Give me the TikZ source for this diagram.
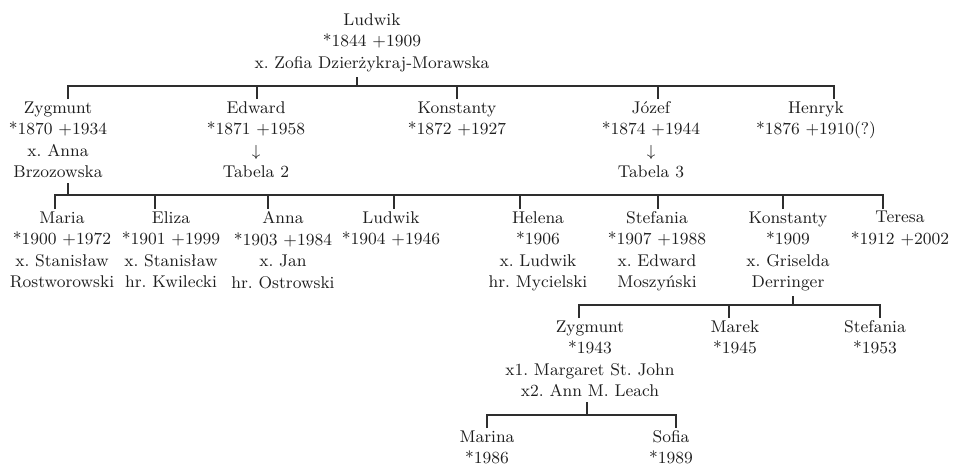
\documentclass[tikz,border=0pt]{standalone}
\usepackage{tikz}
\definecolor{inkgray}{HTML}{1E1E1E}
\definecolor{linegray}{HTML}{2E2E2E}
\frenchspacing

\begin{document}
\begin{tikzpicture}[
  x=0.5pt,
  y=-0.5pt,
  font=\fontsize{8.5}{10.75}\selectfont,
  person/.style={anchor=north, align=center, inner sep=1pt, text=inkgray},
  link/.style={draw=linegray, line width=0.8pt, line join=miter},
  up/.style={link, shorten <=1.5pt}
]
\useasboundingbox (0,0) rectangle (954,466);

% generation 1
\node[person] (ludwik) at (372,11)
  {Ludwik\\*1844 +1909\\x. Zofia Dzierżykraj-Morawska};

% generation 2
\node[person] (zygmunt) at (58,99) {Zygmunt\\*1870 +1934\\x. Anna\\Brzozowska};
\node[person] (edward) at (256,99) {Edward\\*1871 +1958\\$\downarrow$\\Tabela 2};
\node[person] (konstanty) at (457,99) {Konstanty\\*1872 +1927};
\node[person] (jozef) at (651,99) {Józef\\*1874 +1944\\$\downarrow$\\Tabela 3};
\node[person] (henryk) at (816,99) {Henryk\\*1876 +1910(?)};

\coordinate (barA) at (357,86);
\coordinate (barAl) at (68,86);
\coordinate (barAr) at (834,86);
\draw[up] (barA |- ludwik.south) -- (barA);
\draw[link] (barAl |- zygmunt.north) -- (barAl) -- (barAr) -- (barAr |- henryk.north);
\draw[link] (257,86) -- (257,86 |- edward.north);
\draw[link] (457,86) -- (457,86 |- konstanty.north);
\draw[link] (658,86) -- (658,86 |- jozef.north);

% generation 3 (children of Zygmunt)
\node[person] (maria) at (62,209) {Maria\\*1900 +1972\\x. Stanisław\\Rostworowski};
\node[person] (eliza) at (171,209) {Eliza\\*1901 +1999\\x. Stanisław\\hr. Kwilecki};
\node[person] (anna) at (283,209) {Anna\\*1903 +1984\\x. Jan\\hr. Ostrowski};
\node[person] (ludwikjr) at (391,209) {Ludwik\\*1904 +1946};
\node[person] (helena) at (538,209) {Helena\\*1906\\x. Ludwik\\hr. Mycielski};
\node[person] (stefania) at (657,209) {Stefania\\*1907 +1988\\x. Edward\\Moszyński};
\node[person] (konstantyjr) at (788,209) {Konstanty\\*1909\\x. Griselda\\Derringer};
\node[person] (teresa) at (900,209) {Teresa\\*1912 +2002};

\coordinate (barB) at (68,195);
\coordinate (barBl) at (55,195);
\coordinate (barBr) at (883,195);
\draw[up] (barB |- zygmunt.south) -- (barB);
\draw[link] (barBl |- maria.north) -- (barBl) -- (barBr) -- (barBr |- teresa.north);
\draw[link] (155,195) -- (155,195 |- eliza.north);
\draw[link] (268,195) -- (268,195 |- anna.north);
\draw[link] (394,195) -- (394,195 |- ludwikjr.north);
\draw[link] (520,195) -- (520,195 |- helena.north);
\draw[link] (658,195) -- (658,195 |- stefania.north);
\draw[link] (783,195) -- (783,195 |- konstantyjr.north);

% generation 4 (children of Konstanty)
\node[person] (zygmuntjr) at (590,318)
  {Zygmunt\\*1943\\x1. Margaret St. John\\x2. Ann M. Leach};
\node[person] (marek) at (735,318) {Marek\\*1945};
\node[person] (stefaniajr) at (875,318) {Stefania\\*1953};

\coordinate (barC) at (793,305);
\coordinate (barCl) at (579,305);
\coordinate (barCr) at (880,305);
\draw[up] (barC |- konstantyjr.south) -- (barC);
\draw[link] (barCl |- zygmuntjr.north) -- (barCl) -- (barCr) -- (barCr |- stefaniajr.north);
\draw[link] (729,305) -- (729,305 |- marek.north);

% generation 5 (children of Zygmunt)
\node[person] (marina) at (487,428) {Marina\\*1986};
\node[person] (sofia) at (671,428) {Sofia\\*1989};

\coordinate (barD) at (587,415);
\coordinate (barDl) at (487,415);
\coordinate (barDr) at (676,415);
\draw[up] (barD |- zygmuntjr.south) -- (barD);
\draw[link] (barDl |- marina.north) -- (barDl) -- (barDr) -- (barDr |- sofia.north);

\end{tikzpicture}
\end{document}
